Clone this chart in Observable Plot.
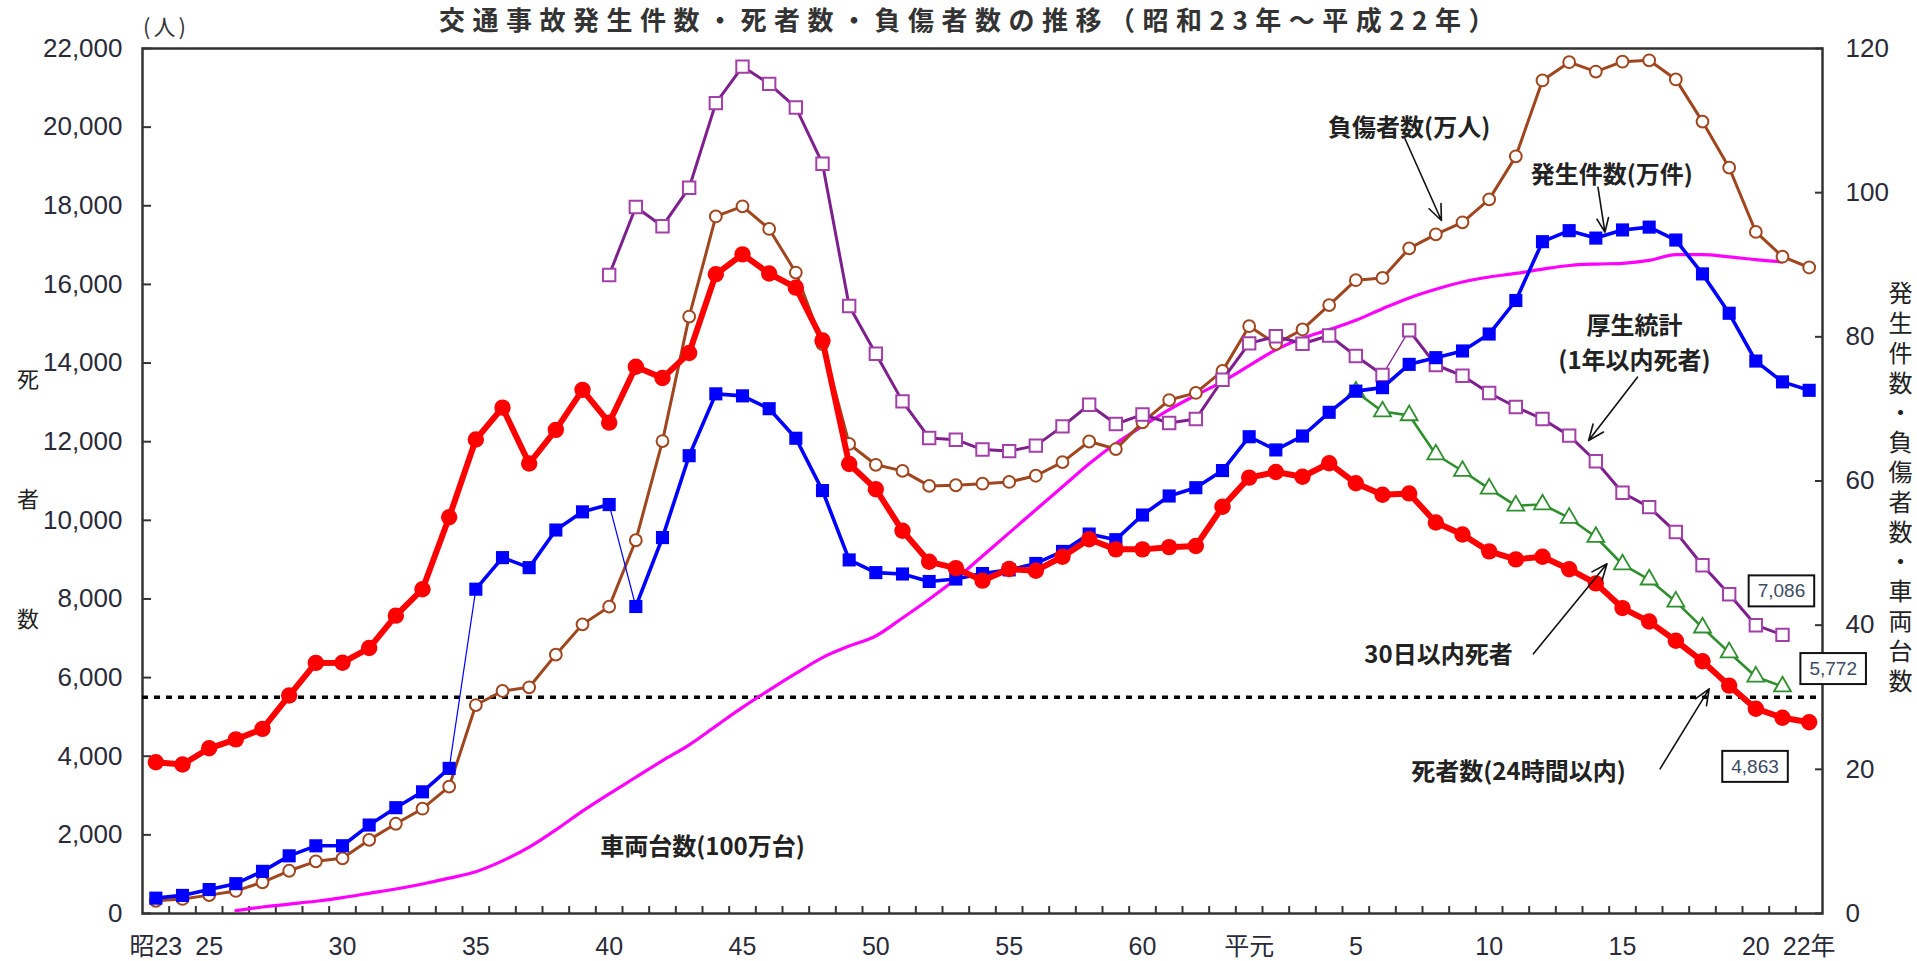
<!DOCTYPE html>
<html><head><meta charset="utf-8">
<script src="https://cdn.jsdelivr.net/npm/d3@7"></script>
<script src="https://cdn.jsdelivr.net/npm/@observablehq/plot@0.6"></script>
<style>
body{margin:0;background:#fff;overflow:hidden;}
#wrap{position:relative;width:1917px;height:961px;overflow:hidden;background:#fff;}
#chart{position:absolute;left:0;top:0;}
.cjk{font-family:"Noto Sans CJK JP",sans-serif;color:#222;position:absolute;white-space:nowrap;}
</style></head><body>
<div id="wrap">
<div id="chart"></div>
<div class="cjk" style="left:24px;width:1893px;text-align:center;top:6px;font-size:26px;font-weight:700;letter-spacing:7.5px;line-height:26px;color:#333;">交通事故発生件数・死者数・負傷者数の推移（昭和23年～平成22年）</div>
<div class="cjk" style="left:143px;top:13px;font-size:22px;line-height:24px;letter-spacing:3px;color:#333;">(人)</div>
<div class="cjk" style="left:17px;top:366px;font-size:22px;line-height:22px;">死</div>
<div class="cjk" style="left:17px;top:486px;font-size:22px;line-height:22px;">者</div>
<div class="cjk" style="left:17px;top:606px;font-size:22px;line-height:22px;">数</div>
<div class="cjk" style="left:1888px;top:281px;font-size:24px;line-height:24px;letter-spacing:5.8px;writing-mode:vertical-rl;">発生件数・負傷者数・車両台数</div>
</div>
<script>
// categories (years, 昭和23年=1948 … 平成22年=2010)
const years = [1948,1949,1950,1951,1952,1953,1954,1955,1956,1957,1958,1959,1960,1961,1962,1963,1964,1965,1966,1967,1968,1969,1970,1971,1972,1973,1974,1975,1976,1977,1978,1979,1980,1981,1982,1983,1984,1985,1986,1987,1988,1989,1990,1991,1992,1993,1994,1995,1996,1997,1998,1999,2000,2001,2002,2003,2004,2005,2006,2007,2008,2009,2010];
const xLabelYears = [1948,1950,1955,1960,1965,1970,1975,1980,1985,1989,1993,1998,2003,2008,2010];
const xLabelTexts = ["昭23","25","30","35","40","45","50","55","60","平元","5","10","15","20","22年"];
const leftTicks = [0,2000,4000,6000,8000,10000,12000,14000,16000,18000,20000,22000];
const rightTicks = [0,20,40,60,80,100,120];

// 死者数(24時間以内) 人, 1948-2010
const deaths24 = [3848,3790,4202,4429,4696,5544,6374,6379,6751,7575,8248,10079,12055,12865,11445,12301,13318,12484,13904,13618,14256,16257,16765,16278,15918,14574,11432,10792,9734,8945,8783,8466,8760,8719,9073,9520,9262,9261,9317,9347,10344,11086,11227,11109,11452,10942,10649,10684,9943,9640,9211,9006,9073,8757,8396,7768,7425,6937,6415,5796,5209,4979,4863];
// 発生件数(万件), 1948-2010
const accidents = [2.13,2.51,3.32,4.14,5.85,8.00,9.39,9.40,12.27,14.68,16.88,20.13,44.99,49.37,47.98,53.20,55.72,56.73,42.59,52.15,63.51,72.09,71.81,70.03,65.93,58.67,49.05,47.29,47.10,46.06,46.40,47.16,47.67,48.56,50.23,52.64,51.86,55.28,57.92,59.07,61.45,66.14,64.31,66.24,69.53,72.47,72.95,76.18,77.11,78.04,80.39,85.04,93.20,94.73,93.70,94.83,95.22,93.43,88.73,83.27,76.64,73.75,72.58];
// 負傷者数(万人), 1948-2010
const injured = [1.76,2.02,2.55,3.13,4.33,5.93,7.24,7.65,10.21,12.45,14.54,17.60,28.92,30.87,31.38,35.91,40.11,42.57,51.78,65.54,82.81,96.70,98.11,94.97,88.92,79.00,65.14,62.25,61.40,59.32,59.41,59.63,59.87,60.73,62.62,65.48,64.43,68.13,71.23,72.22,75.28,81.48,79.03,81.02,84.40,87.86,88.17,92.27,94.22,95.89,99.07,105.04,115.57,118.10,116.80,118.17,118.36,115.71,109.86,103.47,94.55,91.12,89.62];
// 厚生統計(1年以内死者) 人, 1965-2009
const deathsMhlw = [16240,17970,17480,18460,20610,21540,21100,20500,19070,15450,14235,13025,12095,12050,11800,11760,11900,12390,12940,12450,12690,12475,12575,13575,14500,14680,14490,14700,14180,13700,14830,13950,13677,13237,12882,12577,12154,11503,10700,10335,9701,8856,8120,7333,7086];
// 30日以内死者 人, 1993-2009
const deaths30 = [13269,12768,12670,11674,11254,10805,10372,10403,10060,9575,8877,8492,7931,7272,6639,6023,5772];
// 車両台数(100万台), 1951-2009
const vehicles = [0.4,0.9,1.3,1.7,2.2,2.8,3.4,4.1,4.9,5.8,7.3,9.2,11.6,14.2,16.6,18.9,21.2,23.4,26.0,28.6,31.0,33.3,35.5,37.1,38.5,41.0,43.6,46.4,49.6,52.8,56.0,59.2,62.4,65.2,67.6,69.9,71.9,73.8,76.0,78.2,79.8,81.0,82.3,83.9,85.4,86.6,87.6,88.3,88.8,89.4,89.9,90.1,90.2,90.6,91.4,91.4,91.1,90.7,90.4];
const targetLine = [5500];

// annotations (data coordinates: year, persons)
const noteLabels = ["負傷者数(万人)","発生件数(万件)","厚生統計\n(1年以内死者)","30日以内死者","死者数(24時間以内)","車両台数(100万台)"];
const noteYears = [1995.0, 2002.6, 2003.45, 1996.1, 1999.1, 1968.5];
const noteValues = [20067, 18854, 14573, 6650, 3680, 1773];
const arrowYear1 = [1994.84, 2002.08, 2003.56, 1999.66, 2004.41];
const arrowValue1 = [19711, 18472, 13640, 6605, 3680];
const arrowYear2 = [1996.21, 2002.34, 2001.73, 2002.42, 2006.25];
const arrowValue2 = [17625, 17328, 12030, 8894, 5715];
const boxLabels = ["7,086","5,772","4,863"];
const boxYears = [2008.96, 2010.9, 2007.97];
const boxValues = [8195, 6219, 3731];

const K = 22000 / 120; // right-axis unit -> left-axis unit
const rows = (ys, vals, f = 1) => vals.map((v, i) => ({year: ys[i], v: v * f}));
const d24 = rows(years, deaths24);
const acc = rows(years, accidents, K).map(d => ({...d, seg: d.year <= 1959 ? 0 : d.year <= 1965 ? 1 : 2}));
const accBridges = acc.filter(d => [1959,1960,1965,1966].includes(d.year)).map(d => ({...d, pair: d.year < 1962 ? 0 : 1}));
const inj = rows(years, injured, K);
const mhlw = rows(years.filter(y => y >= 1965 && y <= 2009), deathsMhlw).map(d => ({...d, seg: d.year <= 1994 ? 0 : 1}));
const mhlwBridge = mhlw.filter(d => d.year === 1994 || d.year === 1995);
const d30 = rows(years.filter(y => y >= 1993 && y <= 2009), deaths30);
const veh = rows(years.filter(y => y >= 1951 && y <= 2009), vehicles, K);
const notes = noteLabels.map((t, i) => ({t, year: noteYears[i], v: noteValues[i]}));
const arrows = arrowYear1.map((y, i) => ({x1: y, y1: arrowValue1[i], x2: arrowYear2[i], y2: arrowValue2[i]}));
const boxes = boxLabels.map((t, i) => ({t, year: boxYears[i], v: boxValues[i]}));
const xBounds = years.slice(1).map(y => y - 0.5);
const labelMap = new Map(xLabelYears.map((y, i) => [y, xLabelTexts[i]]));

const RED = "#ff0000", BLUE = "#0000ff", BROWN = "#a0461e", PURPLE = "#7e1f8e", PURPLE_M = "#a23fa8", GREEN = "#2f8f2f", MAG = "#ff00ff";
const cjk = "'Noto Sans CJK JP', sans-serif";

const chart = Plot.plot({
  width: 1917, height: 961,
  marginLeft: 142, marginRight: 95, marginTop: 48, marginBottom: 48,
  style: {fontFamily: "'Liberation Sans Narrow','Liberation Sans','Noto Sans CJK JP',sans-serif", fontSize: "26px", color: "#2a2a38", background: "transparent", overflow: "visible"},
  x: {type: "linear", domain: [1947.5, 2010.5], axis: null},
  y: {type: "linear", domain: [0, 22000], axis: null},
  marks: [
    Plot.axisY(leftTicks, {anchor: "left", tickSize: -9, strokeWidth: 2, stroke: "#333", tickFormat: () => "", label: null}),
    Plot.axisY(leftTicks, {anchor: "left", tickSize: 0, tickPadding: 20, tickFormat: d3.format(","), fontSize: 26, label: null}),
    Plot.axisY(rightTicks.map(t => t * K), {anchor: "right", tickSize: -8, strokeWidth: 2, stroke: "#333", tickFormat: () => "", label: null}),
    Plot.axisY(rightTicks.map(t => t * K), {anchor: "right", tickSize: 0, tickPadding: 23, tickFormat: d => String(Math.round(d / K)), fontSize: 26, label: null}),
    Plot.axisX(xBounds, {anchor: "bottom", tickSize: -7, strokeWidth: 2, stroke: "#333", tickFormat: () => "", label: null}),
    Plot.axisX(xLabelYears, {anchor: "bottom", tickSize: 0, tickPadding: 24, tickFormat: d => labelMap.get(d), fontSize: 25, label: null}),
    Plot.frame({stroke: "#333", strokeWidth: 2.5}),
    Plot.ruleY(targetLine, {stroke: "#000", strokeWidth: 3.5, strokeDasharray: "6,6"}),
    Plot.line(veh, {x: "year", y: "v", stroke: MAG, strokeWidth: 3.2, curve: "monotone-x"}),
    Plot.line(inj, {x: "year", y: "v", stroke: BROWN, strokeWidth: 3}),
    Plot.dot(inj, {x: "year", y: "v", r: 5.9, fill: "#fff", stroke: BROWN, strokeWidth: 2}),
    Plot.line(mhlw, {x: "year", y: "v", z: "seg", stroke: PURPLE, strokeWidth: 3}),
    Plot.line(mhlwBridge, {x: "year", y: "v", stroke: PURPLE, strokeWidth: 1.2}),
    Plot.dot(mhlw, {x: "year", y: "v", symbol: "square", r: 7, fill: "#fff", stroke: PURPLE_M, strokeWidth: 2}),
    Plot.line(d30, {x: "year", y: "v", stroke: GREEN, strokeWidth: 2.6}),
    Plot.dot(d30, {x: "year", y: "v", symbol: "triangle", r: 6.3, fill: "#fff", stroke: GREEN, strokeWidth: 1.8}),
    Plot.line(accBridges, {x: "year", y: "v", z: "pair", stroke: BLUE, strokeWidth: 1.2}),
    Plot.line(acc, {x: "year", y: "v", z: "seg", stroke: BLUE, strokeWidth: 3.6}),
    Plot.dot(acc, {x: "year", y: "v", symbol: "square", r: 7.4, fill: BLUE}),
    Plot.line(d24, {x: "year", y: "v", stroke: RED, strokeWidth: 6}),
    Plot.dot(d24, {x: "year", y: "v", r: 8.2, fill: RED}),
    Plot.arrow(arrows, {x1: "x1", y1: "y1", x2: "x2", y2: "y2", stroke: "#111", strokeWidth: 1.6, headLength: 16, headAngle: 45}),
    Plot.text(notes, {x: "year", y: "v", text: "t", fontFamily: cjk, fontSize: 24, fontWeight: "bold", fill: "#222", lineHeight: 1.46}),
    Plot.text(boxes, {x: "year", y: "v", text: "t", fontSize: 19, fill: "#3d4a63"})
  ]
});
document.getElementById("chart").appendChild(chart);
chart.querySelectorAll("text").forEach(t => {
  if (!boxLabels.includes(t.textContent.trim())) return;
  const b = t.getBBox();
  const r = document.createElementNS("http://www.w3.org/2000/svg", "rect");
  r.setAttribute("x", b.x - 9); r.setAttribute("y", b.y - 5);
  r.setAttribute("width", b.width + 18); r.setAttribute("height", b.height + 10);
  r.setAttribute("fill", "#fff"); r.setAttribute("stroke", "#111"); r.setAttribute("stroke-width", 2);
  const tr = t.getAttribute("transform");
  if (tr) r.setAttribute("transform", tr);
  t.parentNode.insertBefore(r, t);
});
</script>
</body></html>
